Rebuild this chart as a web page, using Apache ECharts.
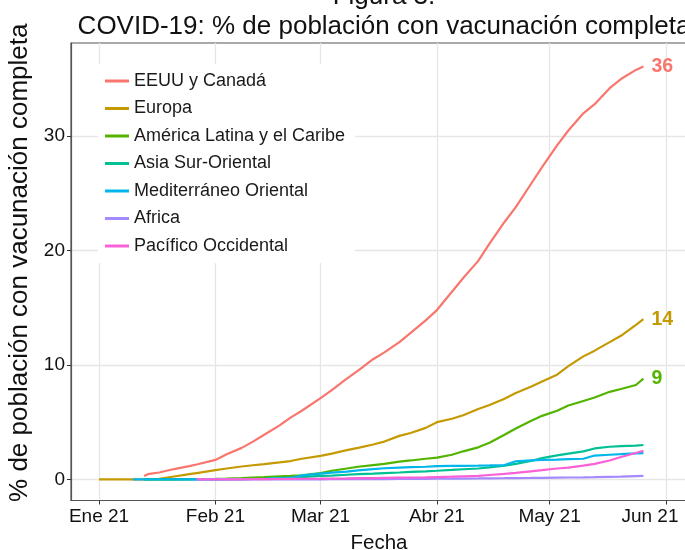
<!DOCTYPE html>
<html>
<head>
<meta charset="utf-8">
<script src="https://cdn.jsdelivr.net/npm/echarts@6/dist/echarts.min.js"></script>
<style>
  html, body { margin: 0; padding: 0; background: #fff; }
  #chart { width: 685px; height: 550px; }
</style>
</head>
<body>
<div id="chart"></div>
<script>
// dias desde el 1 de enero de 2021
const days = [0, 9, 12, 13, 16, 20, 24, 26, 31, 34, 38, 41, 44, 48, 51, 54, 59, 62, 66, 69, 73, 76, 80, 83, 87, 90, 94, 97, 101, 104, 108, 111, 115, 118, 122, 125, 129, 132, 136, 139, 143, 145]

const eeuuCanada = [null, null, 0.3, 0.45, 0.6, 0.9, 1.15, 1.3, 1.7, 2.2, 2.75, 3.3, 3.9, 4.7, 5.4, 6.0, 7.1, 7.8, 8.8, 9.5, 10.5, 11.1, 12.0, 12.8, 13.9, 14.8, 16.4, 17.6, 19.1, 20.6, 22.5, 23.8, 25.8, 27.3, 29.2, 30.5, 32.0, 32.8, 34.2, 35.0, 35.8, 36.1]
const europa = [0, 0, 0, 0.02, 0.05, 0.25, 0.45, 0.55, 0.8, 0.95, 1.12, 1.23, 1.33, 1.48, 1.6, 1.8, 2.05, 2.25, 2.55, 2.75, 3.05, 3.3, 3.8, 4.05, 4.5, 5.0, 5.3, 5.6, 6.15, 6.5, 7.05, 7.55, 8.1, 8.55, 9.15, 9.9, 10.75, 11.25, 12.0, 12.55, 13.5, 14.0]
const americaLatina = [null, null, 0, 0, 0, 0, 0.02, 0.03, 0.05, 0.07, 0.1, 0.15, 0.2, 0.27, 0.3, 0.35, 0.55, 0.75, 0.95, 1.1, 1.25, 1.35, 1.55, 1.65, 1.8, 1.9, 2.15, 2.45, 2.8, 3.2, 3.9, 4.45, 5.1, 5.55, 6.0, 6.45, 6.85, 7.15, 7.65, 7.9, 8.25, 8.8]
const asiaSurOriental = [null, null, 0, 0, 0, 0, 0, 0, 0, 0.01, 0.02, 0.03, 0.05, 0.1, 0.15, 0.2, 0.3, 0.33, 0.4, 0.45, 0.5, 0.55, 0.6, 0.65, 0.7, 0.75, 0.82, 0.88, 0.95, 1.05, 1.2, 1.35, 1.6, 1.85, 2.1, 2.25, 2.45, 2.7, 2.85, 2.9, 2.95, 3.0]
const mediterraneo = [null, 0, 0, 0, 0, 0, 0, 0, 0, 0.01, 0.02, 0.03, 0.05, 0.08, 0.1, 0.35, 0.5, 0.58, 0.68, 0.78, 0.9, 0.97, 1.03, 1.07, 1.1, 1.15, 1.17, 1.18, 1.2, 1.22, 1.25, 1.58, 1.65, 1.7, 1.73, 1.76, 1.8, 2.08, 2.15, 2.2, 2.27, 2.3]
const africa = [null, null, null, null, null, null, null, 0, 0, 0, 0, 0, 0, 0, 0, 0, 0, 0.01, 0.01, 0.02, 0.02, 0.02, 0.03, 0.03, 0.04, 0.05, 0.06, 0.07, 0.08, 0.09, 0.1, 0.11, 0.12, 0.13, 0.15, 0.16, 0.17, 0.19, 0.22, 0.24, 0.28, 0.3]
const pacifico = [null, null, null, null, null, null, null, 0, 0, 0, 0, 0.01, 0.02, 0.03, 0.04, 0.05, 0.06, 0.07, 0.08, 0.1, 0.11, 0.13, 0.15, 0.16, 0.18, 0.2, 0.23, 0.26, 0.3, 0.38, 0.48, 0.57, 0.7, 0.8, 0.95, 1.02, 1.2, 1.35, 1.65, 1.95, 2.3, 2.5]

const regiones = ['EEUU y Canadá', 'Europa', 'América Latina y el Caribe', 'Asia Sur-Oriental', 'Mediterráneo Oriental', 'Africa', 'Pacífico Occidental']
const colores = ['#F8766D', '#C49A00', '#53B400', '#00C094', '#00B6EB', '#A58AFF', '#FB61D7']
const valores = [eeuuCanada, europa, americaLatina, asiaSurOriental, mediterraneo, africa, pacifico]
const conEtiqueta = [true, true, true, false, false, false, false]

const monthTicks = [0, 31, 59, 90, 120, 151]
const monthLabels = ['Ene 21', 'Feb 21', 'Mar 21', 'Abr 21', 'May 21', 'Jun 21']
const yTicks = [0, 10, 20, 30]

const chart = echarts.init(document.getElementById('chart'))

const series = regiones.map((name, i) => ({
  name: name,
  type: 'line',
  showSymbol: false,
  symbol: 'none',
  lineStyle: { width: 2.2, color: colores[i] },
  itemStyle: { color: colores[i] },
  data: days.map((d, j) => valores[i][j] === null ? null : [d, valores[i][j]]).filter(p => p !== null),
  endLabel: {
    show: conEtiqueta[i],
    distance: 8,
    color: colores[i],
    fontSize: 19.5,
    fontWeight: 'bold',
    formatter: p => Math.round(p.value[1])
  },
  animation: false
}))

const option = {
  backgroundColor: '#fff',
  textStyle: { fontFamily: 'Liberation Sans, Arial, sans-serif' },
  title: [
    {
      text: 'Figura 3.',
      left: 379,
      top: -21,
      textAlign: 'center',
      textStyle: { fontSize: 26, fontWeight: 'normal', color: '#111' }
    },
    {
      text: 'COVID-19: % de población con vacunación completa',
      left: 379,
      top: 9,
      textAlign: 'center',
      textStyle: { fontSize: 26, fontWeight: 'normal', color: '#111' }
    }
  ],
  grid: {
    left: 71,
    right: -2,
    top: 43,
    bottom: 49.5,
    outerBoundsMode: 'none',
    containLabel: false,
    show: true,
    borderColor: '#555',
    borderWidth: 1.2
  },
  legend: {
    orient: 'vertical',
    left: 98,
    top: 64,
    padding: [8, 10, 8, 7],
    backgroundColor: '#fff',
    icon: 'rect',
    itemWidth: 24,
    itemHeight: 3,
    itemGap: 9.5,
    textStyle: { fontSize: 18, color: '#1a1a1a', lineHeight: 18 },
    data: regiones
  },
  xAxis: {
    type: 'value',
    min: -7.46,
    max: 156.6,
    name: 'Fecha',
    nameLocation: 'middle',
    nameGap: 32,
    nameTextStyle: { fontSize: 20.5, color: '#111' },
    axisLine: { show: true, onZero: false, lineStyle: { color: '#555', width: 1.2 } },
    axisTick: { show: true, length: 4, lineStyle: { color: '#333' }, customValues: monthTicks },
    axisLabel: {
      customValues: monthTicks,
      fontSize: 19,
      color: '#111',
      margin: 7,
      formatter: v => {
        const k = monthTicks.indexOf(v)
        return k === monthTicks.length - 1 ? '{ult|' + monthLabels[k] + '}' : monthLabels[k]
      },
      rich: {
        ult: { fontSize: 19, color: '#111', padding: [0, 32, 0, 0] }
      }
    },
    splitLine: { show: true, lineStyle: { color: '#e6e6e6', width: 1.3 } }
  },
  yAxis: {
    type: 'value',
    min: -1.85,
    max: 38.15,
    name: '% de población con vacunación completa',
    nameLocation: 'middle',
    nameGap: 37,
    nameTextStyle: { fontSize: 26, color: '#111', padding: [0, 0, 0, 18] },
    axisLine: { show: true, onZero: false, lineStyle: { color: '#555', width: 1.2 } },
    axisTick: { show: true, length: 4, lineStyle: { color: '#333' }, customValues: yTicks },
    axisLabel: { customValues: yTicks, fontSize: 19, color: '#111', margin: 6 },
    splitLine: { show: true, lineStyle: { color: '#e6e6e6', width: 1.3 } }
  },
  series: series
}

chart.setOption(option)
</script>
</body>
</html>
